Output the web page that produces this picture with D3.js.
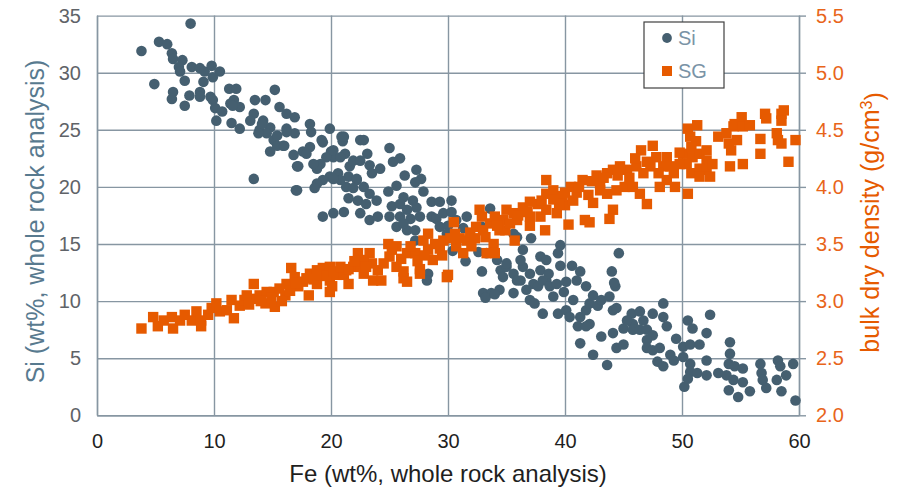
<!DOCTYPE html>
<html lang="en">
<head>
<meta charset="utf-8">
<script src="https://d3js.org/d3.v7.min.js"></script>
<style>
    body { margin: 0; background: #fff; }
    svg text { font-family: "Liberation Sans", Arial, sans-serif; }
</style>
</head>
<body>
<script>
// Fe vs Si (left axis)
let siPoints = [
    [3.8,31.9],[8.0,34.3],[4.9,29.0],[5.3,32.7],[6.0,32.5],[6.4,31.7],[6.5,31.2],[7.3,31.1],[7.0,30.5],[7.1,30.1],
    [7.5,29.3],[6.5,28.3],[6.4,27.7],[7.5,27.1],[7.9,28.0],[8.1,30.5],[8.8,30.4],[9.2,30.1],[9.8,30.6],[10.5,30.1],
    [9.9,29.6],[9.1,29.2],[8.8,28.3],[8.8,27.9],[9.7,27.9],[9.9,27.6],[10.1,26.9],[10.7,26.6],[10.2,25.8],[11.5,25.6],
    [11.3,28.6],[11.9,28.6],[11.7,27.6],[12.2,27.0],[11.4,27.3],[12.2,25.1],[13.4,20.7],[13.5,27.6],[14.4,27.6],[15.2,28.5],
    [13.4,26.4],[14.2,25.8],[14.8,25.2],[13.9,25.0],[14.5,24.7],[15.1,24.1],[15.9,23.6],[14.8,23.1],[15.6,27.0],[16.2,26.4],
    [16.9,26.1],[16.2,25.1],[16.9,24.7],[16.8,22.8],[17.1,21.8],[17.0,19.7],[11.6,27.1],[13.1,25.8],[14.1,25.5],[13.8,24.7],
    [15.4,24.5],[16.2,24.8],[15.4,23.6],[16.0,23.6],[17.6,23.1],[18.2,23.5],[18.2,25.5],[18.3,24.8],[19.3,23.9],[19.9,25.1],
    [20.0,23.1],[20.9,24.4],[21.0,24.0],[21.2,22.9],[20.2,22.6],[19.6,22.6],[19.1,22.0],[18.8,21.6],[17.2,21.8],[19.9,20.9],
    [19.3,20.6],[18.8,20.3],[18.6,19.9],[17.1,19.7],[20.6,21.2],[21.6,21.8],[21.5,20.9],[22.2,20.6],[21.3,20.0],[22.5,24.1],
    [21.9,22.3],[17.9,22.9],[18.5,22.0],[19.2,24.1],[20.2,23.2],[20.8,22.6],[21.1,24.4],[22.8,24.1],[23.1,22.9],[22.5,22.3],
    [23.3,21.9],[24.2,21.6],[25.0,23.4],[25.9,22.5],[25.3,22.2],[23.5,21.2],[20.8,20.6],[20.2,20.7],[22.2,20.7],[22.8,20.0],
    [21.9,19.9],[21.5,19.0],[22.3,18.8],[23.3,19.4],[23.9,18.8],[23.0,18.5],[19.3,17.4],[20.2,17.7],[21.1,17.8],[22.5,17.7],
    [23.3,17.1],[24.0,17.4],[26.3,21.0],[27.3,21.5],[27.7,20.7],[27.2,20.4],[25.6,20.1],[24.9,19.6],[26.2,19.1],[27.0,18.8],
    [27.9,19.6],[28.6,18.7],[29.3,18.7],[30.3,18.8],[25.2,18.3],[25.9,18.5],[26.5,18.0],[27.3,18.2],[25.0,17.4],[25.9,17.4],
    [26.8,17.2],[27.6,17.4],[25.6,16.5],[26.5,16.2],[26.2,16.8],[27.2,16.2],[28.6,17.4],[29.0,17.2],[29.6,17.7],[30.3,17.8],
    [29.3,16.5],[30.0,16.6],[30.7,17.1],[31.6,17.4],[31.3,16.4],[29.9,15.9],[27.2,15.3],[28.3,12.4],[28.2,11.8],[33.6,18.1],
    [32.9,16.5],[35.6,15.9],[35.9,15.6],[37.1,15.5],[37.9,13.9],[38.4,13.6],[32.6,14.3],[33.3,14.2],[32.9,12.6],[34.2,13.6],
    [34.5,12.7],[35.0,13.0],[34.7,12.1],[35.6,12.4],[36.4,13.0],[37.0,12.4],[37.9,12.7],[36.2,11.8],[37.3,11.5],[33.0,10.7],
    [33.7,10.7],[34.4,11.0],[35.6,10.7],[36.7,11.0],[37.7,11.3],[38.4,11.8],[39.6,14.9],[39.4,14.2],[36.4,14.5],[36.2,13.6],
    [35.0,13.3],[44.6,14.2],[44.0,12.6],[40.6,13.1],[39.6,13.1],[41.3,12.6],[38.6,12.4],[35.9,11.8],[38.1,11.8],[38.7,11.3],
    [39.3,11.5],[40.1,11.7],[41.0,11.8],[41.8,11.3],[39.0,10.4],[39.9,10.8],[40.7,10.1],[37.0,10.1],[37.4,9.8],[38.1,8.9],
    [39.4,8.9],[40.1,9.2],[40.4,8.6],[41.3,8.6],[41.1,7.8],[41.8,9.2],[42.1,9.8],[42.4,10.5],[42.8,9.6],[43.1,10.1],
    [43.8,10.4],[44.3,11.3],[44.2,11.6],[44.1,9.2],[44.4,9.4],[42.1,8.0],[41.8,7.8],[41.3,6.3],[42.4,5.3],[43.6,4.4],
    [43.1,6.9],[44.1,7.2],[44.4,5.9],[45.0,6.2],[45.0,7.6],[45.7,8.9],[46.4,9.1],[46.7,8.3],[45.8,8.0],[45.3,8.3],
    [45.8,7.5],[46.4,7.5],[47.0,7.5],[47.5,8.9],[48.4,9.8],[48.4,8.6],[48.7,7.8],[47.5,7.0],[47.0,6.6],[47.0,5.9],
    [47.5,5.7],[48.1,5.9],[47.9,4.7],[48.4,4.3],[49.0,5.3],[49.3,4.8],[49.5,6.7],[50.1,6.0],[50.7,6.2],[51.5,6.2],
    [52.1,7.2],[52.4,8.8],[50.5,8.3],[50.9,7.6],[50.1,5.1],[50.7,4.5],[50.7,3.8],[50.2,2.5],[50.5,3.2],[51.3,3.7],
    [52.1,3.5],[52.1,4.8],[53.1,3.7],[53.8,3.5],[54.1,6.4],[54.1,5.4],[54.0,4.5],[54.5,4.3],[54.4,3.1],[54.0,2.2],
    [54.8,1.6],[55.2,4.1],[55.2,2.9],[55.8,2.1],[56.7,4.5],[56.8,3.7],[56.9,3.1],[57.2,2.4],[58.2,4.8],[58.4,4.3],
    [58.9,3.5],[58.5,2.1],[58.1,3.1],[59.5,4.5],[59.7,1.3],[30.4,14.4],[31.5,13.5],[33.2,10.3],[34.0,10.6]
];

// Fe vs SG (right axis)
let sgPoints = [
    [3.8,2.76],[4.8,2.86],[5.2,2.78],[5.7,2.83],[6.4,2.86],[6.5,2.76],[7.1,2.83],[7.5,2.88],[8.1,2.83],[8.5,2.91],
    [8.9,2.83],[8.9,2.78],[9.5,2.88],[9.8,2.94],[10.2,2.98],[10.5,2.91],[11.1,2.92],[11.5,3.01],[11.7,2.85],[12.2,2.96],
    [12.6,3.01],[13.4,3.15],[13.5,3.02],[13.9,3.05],[14.4,2.98],[14.5,3.08],[15.1,3.08],[15.2,2.95],[15.6,3.11],[16.1,3.05],
    [16.2,3.15],[16.6,3.29],[16.9,3.21],[17.2,3.13],[17.6,3.17],[18.1,3.05],[18.2,3.24],[18.8,3.27],[18.8,3.15],[19.3,3.29],
    [19.9,3.30],[19.9,3.18],[19.9,3.08],[20.5,3.23],[21.1,3.23],[21.5,3.15],[21.9,3.30],[22.3,3.42],[22.5,3.30],[22.8,3.24],
    [23.3,3.42],[23.5,3.33],[23.6,3.18],[24.0,3.27],[22.8,3.36],[26.2,3.20],[27.6,3.24],[29.9,3.21],[20.1,3.13],[21.3,3.27],
    [24.3,3.18],[24.9,3.50],[25.0,3.39],[25.6,3.48],[25.6,3.30],[26.2,3.26],[26.5,3.17],[26.5,3.42],[27.2,3.42],[27.6,3.28],
    [27.9,3.53],[28.3,3.59],[28.3,3.45],[28.7,3.36],[29.3,3.46],[29.6,3.53],[30.0,3.23],[30.5,3.69],[30.6,3.59],[30.7,3.48],
    [31.3,3.42],[31.6,3.53],[32.0,3.48],[32.4,3.65],[32.7,3.80],[32.9,3.74],[33.2,3.56],[33.6,3.68],[34.0,3.74],[33.9,3.50],
    [34.4,3.62],[34.7,3.71],[35.0,3.80],[35.6,3.77],[35.9,3.71],[36.4,3.82],[37.0,3.87],[37.0,3.74],[37.7,3.85],[37.9,3.74],
    [38.4,3.94],[38.4,3.80],[34.0,3.42],[33.3,3.42],[39.0,3.97],[40.0,3.84],[39.3,3.77],[40.7,3.88],[41.5,4.06],[42.0,3.93],
    [41.7,3.71],[40.3,3.67],[42.7,4.10],[43.0,3.97],[38.4,4.06],[34.9,3.62],[35.7,3.53],[37.0,3.66],[38.3,3.62],[42.1,3.69],
    [39.8,3.92],[40.5,4.00],[41.0,3.95],[42.4,3.86],[39.5,3.85],
    [46.5,4.32],[47.5,4.36],[47.8,4.26],[48.7,4.26],[48.4,4.18],[47.3,4.18],[46.7,4.12],[46.1,4.18],[45.3,4.15],[44.7,4.18],
    [44.1,4.15],[43.6,4.12],[43.0,4.03],[43.6,3.94],[44.4,3.97],[45.1,4.00],[45.8,4.00],[46.4,3.94],[47.0,3.85],[44.1,3.80],
    [43.8,3.72],[48.1,4.00],[48.7,4.06],[49.3,4.12],[49.4,4.00],[50.1,4.29],[50.5,4.51],[51.3,4.54],[50.7,4.44],[51.2,4.40],
    [50.8,4.35],[50.9,4.26],[51.5,4.29],[52.1,4.32],[52.1,4.23],[50.4,4.20],[50.8,4.12],[51.5,4.16],[52.1,4.15],[51.5,4.09],
    [52.4,4.09],[50.5,3.94],[49.8,4.20],[53.1,4.44],[53.8,4.47],[54.0,4.38],[54.4,4.53],[54.2,4.32],[54.7,4.41],[54.5,4.55],
    [55.1,4.61],[55.2,4.53],[55.8,4.54],[55.2,4.20],[54.1,4.18],[56.7,4.42],[56.7,4.29],[57.1,4.64],[57.2,4.60],[58.1,4.47],
    [58.2,4.41],[58.5,4.38],[58.5,4.64],[58.7,4.67],[58.5,4.58],[59.1,4.22],[59.7,4.41],
    [12.8,3.05],[13.0,2.97],[14.0,3.00],[14.9,3.03],[15.8,3.00],[16.5,3.09],[17.0,3.16],[17.9,3.20],[18.5,3.19],[19.0,3.23],
    [19.6,3.22],[20.2,3.26],[20.8,3.30],[21.5,3.28],[22.0,3.35],[23.0,3.30],[24.5,3.33],[25.2,3.45],[26.0,3.37],[26.8,3.48],
    [27.4,3.35],[28.0,3.40],[28.9,3.50],[29.5,3.40],[30.2,3.55],[31.0,3.55],[31.9,3.60],[32.3,3.55],[33.0,3.62],[34.2,3.66],
    [35.3,3.68],[36.0,3.75],[36.8,3.78],[38.0,3.88],[39.0,3.89],[40.0,3.95],[41.2,4.00],[42.3,4.05],[43.3,4.08],[44.5,4.10],
    [45.5,4.08],[46.0,4.25],[47.0,4.22],[48.0,4.12],[49.0,4.18],[49.8,4.30],[52.6,4.20]
];

let feTicks = [0, 10, 20, 30, 40, 50, 60];
let siTicks = [0, 5, 10, 15, 20, 25, 30, 35];
let sgTicks = [2.0, 2.5, 3.0, 3.5, 4.0, 4.5, 5.0, 5.5];
let legendNames = ["Si", "SG"];

var W = 897, H = 490;
var plotL = 97, plotR = 799, plotT = 15.6, plotB = 415.3;
var gridColor = "#8796a2";
var siColor = "#455f70";
var sgColor = "#e65a00";

var svg = d3.select("body").append("svg")
    .attr("width", W)
    .attr("height", H);

var x = d3.scaleLinear().domain([0, 60]).range([plotL, plotR]);
var ySi = d3.scaleLinear().domain([0, 35]).range([plotB, plotT]);
var ySG = d3.scaleLinear().domain([2, 5.5]).range([plotB, plotT]);

// horizontal grid + left labels
var gl = svg.append("g")
    .attr("transform", "translate(" + plotL + ",0)")
    .call(d3.axisLeft(ySi).tickValues(siTicks)
        .tickSizeInner(-(plotR - plotL)).tickSizeOuter(0).tickPadding(16));
gl.selectAll("line").attr("stroke", gridColor).attr("stroke-width", 1.4);
gl.select(".domain").attr("stroke", gridColor).attr("stroke-width", 1.4);
gl.selectAll("text").attr("fill", "#5f6368").style("font-size", "20px");

// vertical grid + bottom labels
var gb = svg.append("g")
    .attr("transform", "translate(0," + plotB + ")")
    .call(d3.axisBottom(x).tickValues(feTicks)
        .tickSizeInner(-(plotB - plotT)).tickSizeOuter(0).tickPadding(19));
gb.selectAll("line").attr("stroke", gridColor).attr("stroke-width", 1.4);
gb.select(".domain").attr("stroke", gridColor).attr("stroke-width", 1.4);
gb.selectAll("text").attr("fill", "#1f1f1f").style("font-size", "20px");

// right axis
var gr = svg.append("g")
    .attr("transform", "translate(" + plotR + ",0)")
    .call(d3.axisRight(ySG).tickValues(sgTicks).tickFormat(d3.format(".1f"))
        .tickSizeInner(7).tickSizeOuter(0).tickPadding(10));
gr.selectAll("line").attr("stroke", gridColor).attr("stroke-width", 1.4);
gr.select(".domain").attr("stroke", gridColor).attr("stroke-width", 1.4);
gr.selectAll("text").attr("fill", "#e8651a").style("font-size", "20px");

// Si dots
svg.append("g").selectAll("circle")
    .data(siPoints)
    .enter()
    .append("circle")
    .attr("cx", d => x(d[0]))
    .attr("cy", d => ySi(d[1]))
    .attr("r", 5.3)
    .attr("fill", siColor);

// SG squares on top
svg.append("g").selectAll("rect")
    .data(sgPoints)
    .enter()
    .append("rect")
    .attr("x", d => x(d[0]) - 5.2)
    .attr("y", d => ySG(d[1]) - 5.2)
    .attr("width", 10.4)
    .attr("height", 10.4)
    .attr("fill", sgColor);

// axis titles
svg.append("text")
    .attr("transform", "translate(44," + ((plotT + plotB) / 2 + 6) + ") rotate(-90)")
    .attr("text-anchor", "middle")
    .attr("fill", "#587a8f")
    .style("font-size", "25px")
    .text("Si (wt%, whole rock analysis)");

var rt = svg.append("text")
    .attr("transform", "translate(879," + ((plotT + plotB) / 2 + 7) + ") rotate(-90)")
    .attr("text-anchor", "middle")
    .attr("fill", sgColor)
    .style("font-size", "25px");
rt.append("tspan").text("bulk dry density (g/cm");
rt.append("tspan").attr("dy", "-0.45em").style("font-size", "16px").text("3");
rt.append("tspan").attr("dy", "0.45em").text(")");

svg.append("text")
    .attr("x", (plotL + plotR) / 2)
    .attr("y", 482)
    .attr("text-anchor", "middle")
    .attr("fill", "#1f1f1f")
    .style("font-size", "24px")
    .text("Fe (wt%, whole rock analysis)");

// legend
var lg = svg.append("g").attr("transform", "translate(644,22)");
lg.append("rect")
    .attr("width", 80).attr("height", 66)
    .attr("fill", "#fff").attr("stroke", "#404040").attr("stroke-width", 1.2);
var item = lg.selectAll("g.item")
    .data(legendNames)
    .enter()
    .append("g")
    .attr("class", "item")
    .attr("transform", (d, i) => "translate(23," + (16 + i * 33) + ")");
item.append("path")
    .attr("d", (d, i) => i == 0 ? d3.symbol(d3.symbolCircle, 75)() : "M-5,-5h10v10h-10z")
    .attr("fill", (d, i) => i == 0 ? siColor : sgColor);
item.append("text")
    .attr("x", 11)
    .attr("y", 7)
    .attr("fill", "#7a93a6")
    .style("font-size", "20px")
    .text(d => d);
</script>
</body>
</html>
